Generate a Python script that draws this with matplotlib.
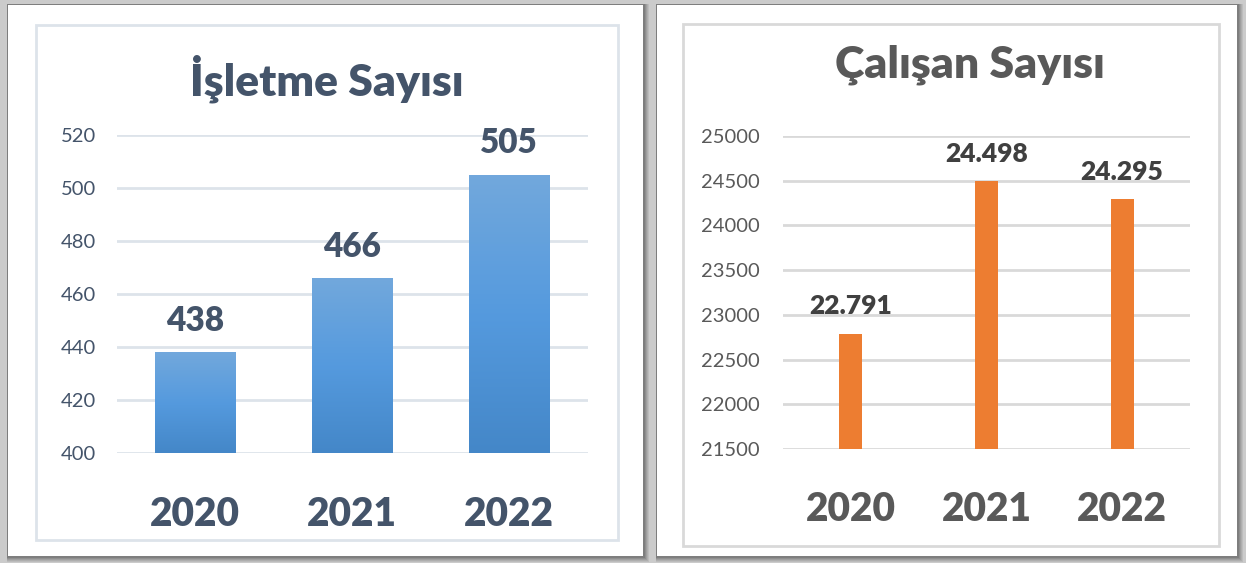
import numpy as np
import matplotlib
matplotlib.use("Agg")
import matplotlib.pyplot as plt
from matplotlib.patches import Rectangle
from matplotlib.colors import LinearSegmentedColormap

plt.rcParams['font.family'] = ['Lato', 'DejaVu Sans']

years = ["2020", "2021", "2022"]
isletme = [438, 466, 505]
calisan = [22791, 24498, 24295]
isletme_ticks = [400, 420, 440, 460, 480, 500, 520]
calisan_ticks = [21500, 22000, 22500, 23000, 23500, 24000, 24500, 25000]

W, H = 1246, 563
BOLD = "heavy"
fig = plt.figure(figsize=(W / 100, H / 100), dpi=100, facecolor="#cbcbcb")


def px_rect(x0, y0, x1, y1, **kw):
    # rectangle in pixel coords measured from the top-left
    r = Rectangle((x0 / W, 1 - y1 / H), (x1 - x0) / W, (y1 - y0) / H,
                  transform=fig.transFigure, **kw)
    fig.add_artist(r)
    return r


# panels with a soft shadow
for (x0, y0, x1, y1) in [(8, 5, 643, 556), (657, 5, 1237, 556)]:
    for i, a in enumerate([0.10, 0.10, 0.12, 0.14, 0.16]):
        d = 6 - i
        px_rect(x0 - 1, y0 - 1, x1 + d, y1 + d, facecolor="black",
                edgecolor="none", alpha=a * 0.7, zorder=-3)
    px_rect(x0, y0, x1, y1, facecolor="white", edgecolor="none", zorder=-2)

px_rect(36, 25, 618, 540, facecolor="none", edgecolor="#dde3ea", lw=2, zorder=-1)
px_rect(683, 24, 1219, 546, facecolor="none", edgecolor="#d9d9d9", lw=2, zorder=-1)

fig.text(327 / W, 1 - 79 / H, "İşletme Sayısı", ha="center", va="center",
         fontsize=32, fontweight=BOLD, color="#44546a")
fig.text(970 / W, 1 - 65 / H, "Çalışan Sayısı", ha="center", va="center",
         fontsize=32, fontweight=BOLD, color="#595959")

# left chart
ax1 = fig.add_axes([116.5 / W, 1 - 453 / H, 471 / W, 318 / H])
ax1.set_facecolor("none")
x = np.arange(len(years))
bars1 = ax1.bar(x, isletme, width=0.51, color="none", zorder=2)
cmap = LinearSegmentedColormap.from_list("b", ["#4487c8", "#559ade", "#72a8dc"])
grad = np.linspace(0, 1, 256).reshape(-1, 1)
for b, v in zip(bars1, isletme):
    im = ax1.imshow(grad, extent=[b.get_x(), b.get_x() + b.get_width(),
                                  isletme_ticks[0], v],
                    origin="lower", aspect="auto", cmap=cmap, zorder=2)
    im.set_clip_path(b)
ax1.set_xlim(-0.5, 2.5)
ax1.set_ylim(isletme_ticks[0], isletme_ticks[-1])
ax1.set_yticks(isletme_ticks)
ax1.set_xticks(x, years)
ax1.bar_label(bars1, labels=[str(v) for v in isletme], padding=11,
              fontsize=24, fontweight=BOLD, color="#44546a")
ax1.grid(axis="y", color="#dde3ea", lw=2)
ax1.set_axisbelow(True)
for s in ax1.spines.values():
    s.set_visible(False)
ax1.tick_params(axis="y", length=0, pad=15, labelsize=14.5, labelcolor="#44546a")
ax1.tick_params(axis="x", length=0, pad=31, labelsize=28, labelcolor="#44546a")
for t in ax1.get_xticklabels():
    t.set_fontweight(BOLD)

# right chart
ax2 = fig.add_axes([783 / W, 1 - 449 / H, 407 / W, 313 / H])
ax2.set_facecolor("none")
bars2 = ax2.bar(x, calisan, width=0.17, color="#ed7d31", zorder=2)
ax2.set_xlim(-0.5, 2.5)
ax2.set_ylim(calisan_ticks[0], calisan_ticks[-1])
ax2.set_yticks(calisan_ticks)
ax2.set_xticks(x, years)
ax2.bar_label(bars2, labels=[f"{v:,}".replace(",", ".") for v in calisan],
              padding=11, fontsize=19, fontweight=BOLD, color="#404040")
ax2.grid(axis="y", color="#d9d9d9", lw=2)
ax2.set_axisbelow(True)
for s in ax2.spines.values():
    s.set_visible(False)
ax2.tick_params(axis="y", length=0, pad=17, labelsize=14.5, labelcolor="#595959")
ax2.tick_params(axis="x", length=0, pad=30, labelsize=28, labelcolor="#595959")
for t in ax2.get_xticklabels():
    t.set_fontweight(BOLD)

fig.savefig("out.png", dpi=100, facecolor=fig.get_facecolor())
